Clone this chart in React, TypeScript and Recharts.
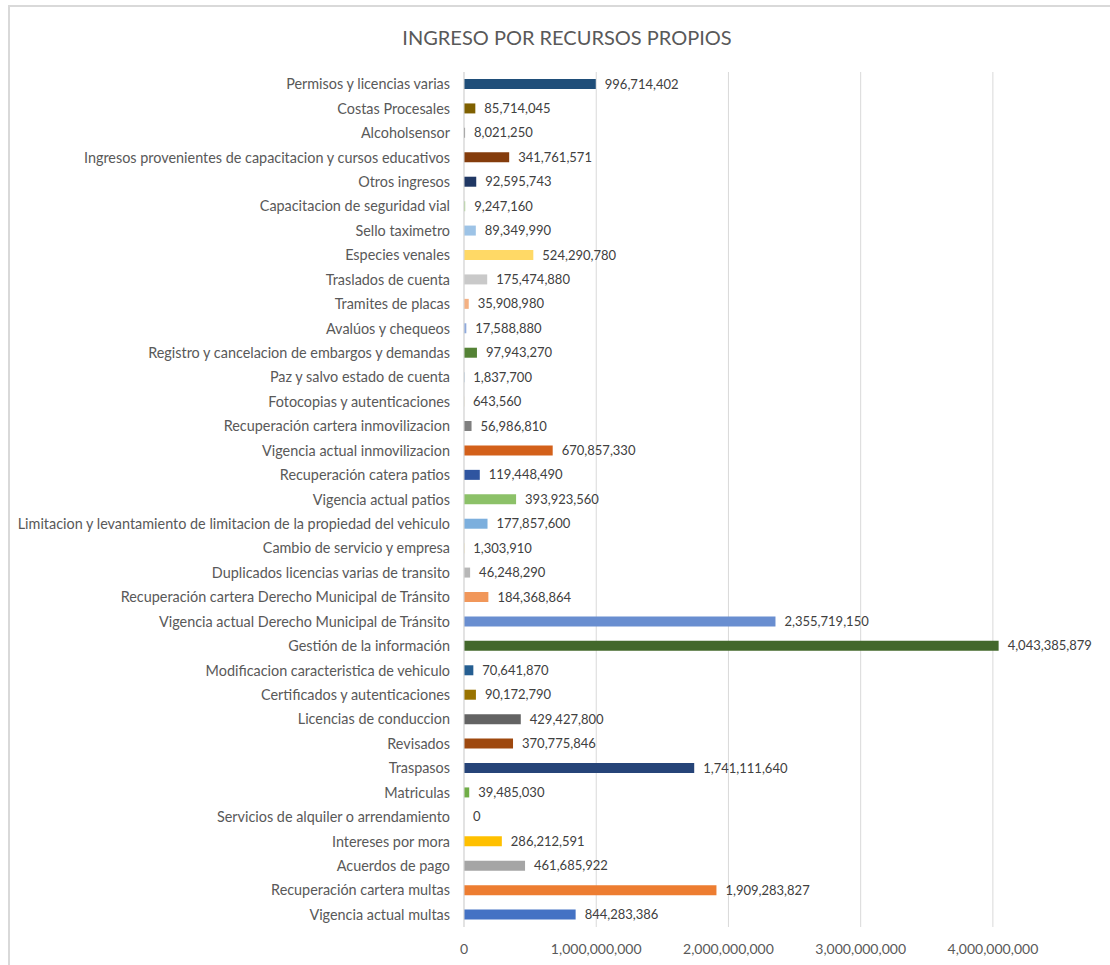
import React from "react";
import { BarChart, Bar, XAxis, YAxis, CartesianGrid, Cell, LabelList } from "recharts";

const categories: string[] = [
  "Permisos y licencias varias",
  "Costas Procesales",
  "Alcoholsensor",
  "Ingresos provenientes de capacitacion y cursos educativos",
  "Otros ingresos",
  "Capacitacion de seguridad vial",
  "Sello taximetro",
  "Especies venales",
  "Traslados de cuenta",
  "Tramites de placas",
  "Avalúos y chequeos",
  "Registro y cancelacion de embargos y demandas",
  "Paz y salvo estado de cuenta",
  "Fotocopias y autenticaciones",
  "Recuperación cartera inmovilizacion",
  "Vigencia actual inmovilizacion",
  "Recuperación catera patios",
  "Vigencia actual patios",
  "Limitacion y levantamiento de limitacion de la propiedad del vehiculo",
  "Cambio de servicio y empresa",
  "Duplicados licencias varias de transito",
  "Recuperación cartera Derecho Municipal de Tránsito",
  "Vigencia actual Derecho Municipal de Tránsito",
  "Gestión de la información",
  "Modificacion caracteristica de vehiculo",
  "Certificados y autenticaciones",
  "Licencias de conduccion",
  "Revisados",
  "Traspasos",
  "Matriculas",
  "Servicios de alquiler o arrendamiento",
  "Intereses por mora",
  "Acuerdos de pago",
  "Recuperación cartera multas",
  "Vigencia actual multas",
];

const values: number[] = [
  996714402, 85714045, 8021250, 341761571, 92595743, 9247160, 89349990, 524290780,
  175474880, 35908980, 17588880, 97943270, 1837700, 643560, 56986810, 670857330,
  119448490, 393923560, 177857600, 1303910, 46248290, 184368864, 2355719150,
  4043385879, 70641870, 90172790, 429427800, 370775846, 1741111640, 39485030, 0,
  286212591, 461685922, 1909283827, 844283386,
];

const barColors: string[] = [
  "#1F4E79", "#7F6000", "#7B7B7B", "#843C0C", "#203864", "#A9D18E", "#9DC3E6", "#FFD966",
  "#C9C9C9", "#F4B183", "#8FAADC", "#548235", "#2E75B6", "#BF9000", "#7F7F7F", "#D3601A",
  "#2F55A0", "#8CC168", "#7CAFDD", "#FFCD33", "#B7B7B7", "#F1975A", "#698ED0", "#43682B",
  "#255E91", "#997300", "#636363", "#9E480E", "#264478", "#70AD47", "#5B9BD5", "#FFC000",
  "#A5A5A5", "#ED7D31", "#4472C4",
];

const xTicks: number[] = [0, 1000000000, 2000000000, 3000000000, 4000000000];

const data = categories.map((name, i) => ({ name, value: values[i] }));

const fmt = (v: number) => Number(v).toLocaleString("en-US");

const FONT = "Lato, 'Open Sans', sans-serif";

export default function App() {
  return (
    <div style={{ position: "absolute", left: 0, top: 0, width: 1110, height: 965, background: "#fff", overflow: "hidden", fontFamily: FONT }}>
      <div style={{ position: "absolute", left: 8, top: 5, width: 1200, height: 1100, borderLeft: "2px solid #d9d9d9", borderTop: "2px solid #d9d9d9" }} />
      <div style={{ position: "absolute", left: 0, top: 23, width: 1134, textAlign: "center", fontSize: 20, color: "#595959", lineHeight: "28px" }}>
        INGRESO POR RECURSOS PROPIOS
      </div>
      <div style={{ position: "absolute", left: 0, top: 0 }}>
        <BarChart
          width={1110}
          height={965}
          data={data}
          layout="vertical"
          margin={{ top: 72, right: 51, left: 0, bottom: 0 }}
          barCategoryGap={0}
        >
          <CartesianGrid horizontal={false} vertical={true} verticalValues={xTicks} stroke="#d9d9d9" strokeWidth={1} />
          <XAxis
            type="number"
            domain={[0, 4500000000]}
            ticks={xTicks}
            tickFormatter={fmt}
            axisLine={false}
            tickLine={false}
            height={38}
            tickMargin={11}
            tick={{ fill: "#595959", fontSize: 14, fontFamily: FONT }}
          />
          <YAxis
            type="category"
            dataKey="name"
            width={464}
            axisLine={{ stroke: "#d9d9d9" }}
            tickLine={false}
            tickMargin={8}
            interval={0}
            tick={{ fill: "#595959", fontSize: 14.4, fontFamily: FONT }}
          />
          <Bar
            dataKey="value"
            barSize={10}
            isAnimationActive={false}
            minPointSize={(v: number) => (v === 0 ? 0.01 : 0)}
          >
            {data.map((d, i) => (
              <Cell key={d.name} fill={barColors[i]} />
            ))}
            <LabelList
              dataKey="value"
              position="right"
              offset={9}
              formatter={(v: any) => fmt(v)}
              style={{ fill: "#404040", fontSize: 13, fontFamily: FONT }}
            />
          </Bar>
        </BarChart>
      </div>
    </div>
  );
}
